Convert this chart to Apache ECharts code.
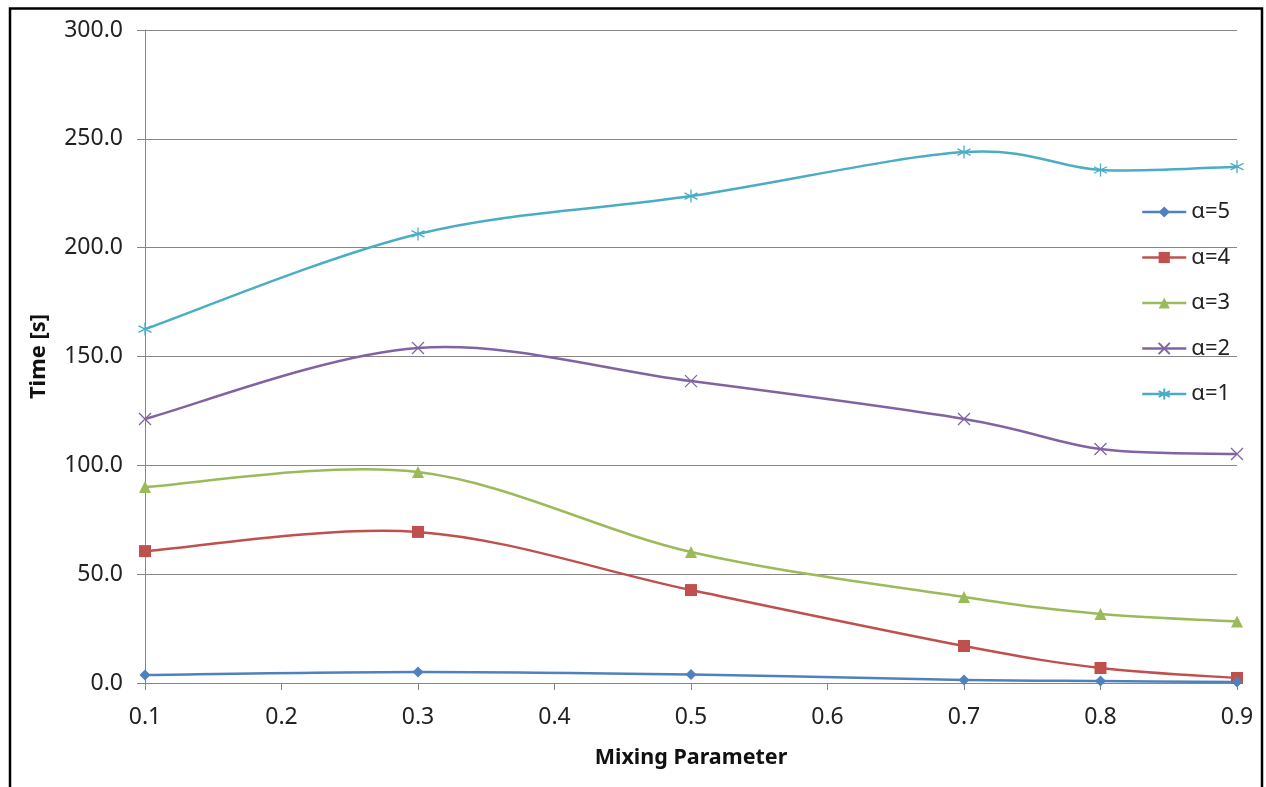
<!DOCTYPE html>
<html>
<head>
<meta charset="utf-8">
<script src="https://cdn.jsdelivr.net/npm/echarts@6/dist/echarts.min.js"></script>
<style>
html,body{margin:0;padding:0;background:#fff;}
#main{width:1266px;height:787px;}
</style>
</head>
<body>
<div id="main"></div>
<script>
const xValues = [0.1, 0.3, 0.5, 0.7, 0.8, 0.9];
const seriesNames = ['α=5', 'α=4', 'α=3', 'α=2', 'α=1'];
const alpha5 = [3.7, 5.1, 3.9, 1.4, 0.9, 0.5];
const alpha4 = [60.6, 69.4, 42.7, 17.0, 6.9, 2.3];
const alpha3 = [90.0, 96.9, 60.2, 39.5, 31.7, 28.3];
const alpha2 = [121.3, 153.9, 138.7, 121.3, 107.5, 105.2];
const alpha1 = [162.6, 206.3, 223.7, 243.9, 235.7, 237.2];
const yTicks = { min: 0, max: 300, interval: 50 };
const xTicks = { min: 0.1, max: 0.9, interval: 0.1 };

const colors = ['#4F81BD', '#C0504D', '#9BBB59', '#8064A2', '#4BACC6'];
const allValues = [alpha5, alpha4, alpha3, alpha2, alpha1];
const symbols = [
  'diamond',
  'rect',
  'triangle',
  'path://M0,0L10,10M10,0L0,10',
  'path://M5,0L5,10M0.7,2.5L9.3,7.5M9.3,2.5L0.7,7.5'
];
const symbolSizes = [11, 12, 12, 12, 13];

const font = 'Noto Sans';
const chart = echarts.init(document.getElementById('main'));

// Smoothed curve (Catmull-Rom style, like spreadsheet "smoothed line"),
// built in pixel space from points converted by the chart's own axes.
function smoothPath(pts) {
  const t = 1 / 6;
  let d = 'M' + pts[0][0] + ' ' + pts[0][1];
  for (let i = 0; i < pts.length - 1; i++) {
    const p0 = pts[Math.max(i - 1, 0)];
    const p1 = pts[i];
    const p2 = pts[i + 1];
    const p3 = pts[Math.min(i + 2, pts.length - 1)];
    const c1x = p1[0] + (p2[0] - p0[0]) * t;
    const c1y = p1[1] + (p2[1] - p0[1]) * t;
    const c2x = p2[0] - (p3[0] - p1[0]) * t;
    const c2y = p2[1] - (p3[1] - p1[1]) * t;
    d += ' C' + c1x + ' ' + c1y + ' ' + c2x + ' ' + c2y + ' ' + p2[0] + ' ' + p2[1];
  }
  return d;
}

const curveSeries = allValues.map((vals, i) => ({
  type: 'custom',
  id: 'curve' + i,
  data: [[xTicks.min, 0]],
  silent: true,
  z: 2 + (4 - i) * 0.1,
  renderItem: function (params, api) {
    const pts = xValues.map((x, j) => api.coord([x, vals[j]]));
    return {
      type: 'path',
      shape: { pathData: smoothPath(pts) },
      style: { stroke: colors[i], fill: null, lineWidth: 2.5 }
    };
  }
}));

const pointSeries = seriesNames.map((name, i) => ({
  name: name,
  type: 'line',
  data: xValues.map((x, j) => [x, allValues[i][j]]),
  symbol: symbols[i],
  symbolSize: symbolSizes[i],
  showAllSymbol: true,
  lineStyle: { color: colors[i], width: 2.5, opacity: 0 },
  itemStyle: i >= 3
    ? { color: colors[i], borderColor: colors[i], borderWidth: 1.3 }
    : { color: colors[i], borderWidth: 0 },
  emphasis: { disabled: true },
  z: 4 + (4 - i) * 0.1
}));

chart.setOption({
  animation: false,
  backgroundColor: '#fff',
  color: colors,
  textStyle: { fontFamily: font },
  graphic: [{
    type: 'rect',
    shape: { x: 10, y: 8.5, width: 1252, height: 800 },
    style: { fill: null, stroke: '#000', lineWidth: 2.5 },
    silent: true,
    z: 100
  }],
  grid: { left: 145, right: 29, top: 30, bottom: 104, containLabel: false },
  legend: {
    orient: 'vertical',
    left: 1141,
    top: 201,
    padding: 0,
    itemWidth: 44,
    itemHeight: 14,
    itemGap: 23.5,
    lineStyle: { opacity: 1, width: 2.5 },
    textStyle: { fontFamily: font, fontSize: 22, lineHeight: 22, color: '#222' },
    data: seriesNames
  },
  xAxis: {
    type: 'value',
    min: xTicks.min,
    max: xTicks.max,
    interval: xTicks.interval,
    name: 'Mixing Parameter',
    nameLocation: 'middle',
    nameGap: 64,
    nameTextStyle: { fontFamily: font, fontSize: 21.5, fontWeight: 'bold', color: '#111' },
    axisLine: { show: true, onZero: false, lineStyle: { color: '#868686', width: 1 } },
    axisTick: { show: true, inside: false, length: 7, lineStyle: { color: '#868686' } },
    axisLabel: { fontFamily: font, fontSize: 23, color: '#222', margin: 23,
      formatter: v => v.toFixed(1) },
    splitLine: { show: false }
  },
  yAxis: {
    type: 'value',
    min: yTicks.min,
    max: yTicks.max,
    interval: yTicks.interval,
    name: 'Time [s]',
    nameLocation: 'middle',
    nameGap: 95,
    nameRotate: 90,
    nameTextStyle: { fontFamily: font, fontSize: 22, fontWeight: 'bold', color: '#111' },
    axisLine: { show: true, lineStyle: { color: '#868686', width: 1 } },
    axisTick: { show: true, inside: false, length: 8, lineStyle: { color: '#868686' } },
    axisLabel: { fontFamily: font, fontSize: 23, color: '#222', margin: 22,
      formatter: v => v.toFixed(1) },
    splitLine: { show: true, lineStyle: { color: '#878787', width: 1 } }
  },
  series: curveSeries.concat(pointSeries)
});
</script>
</body>
</html>
